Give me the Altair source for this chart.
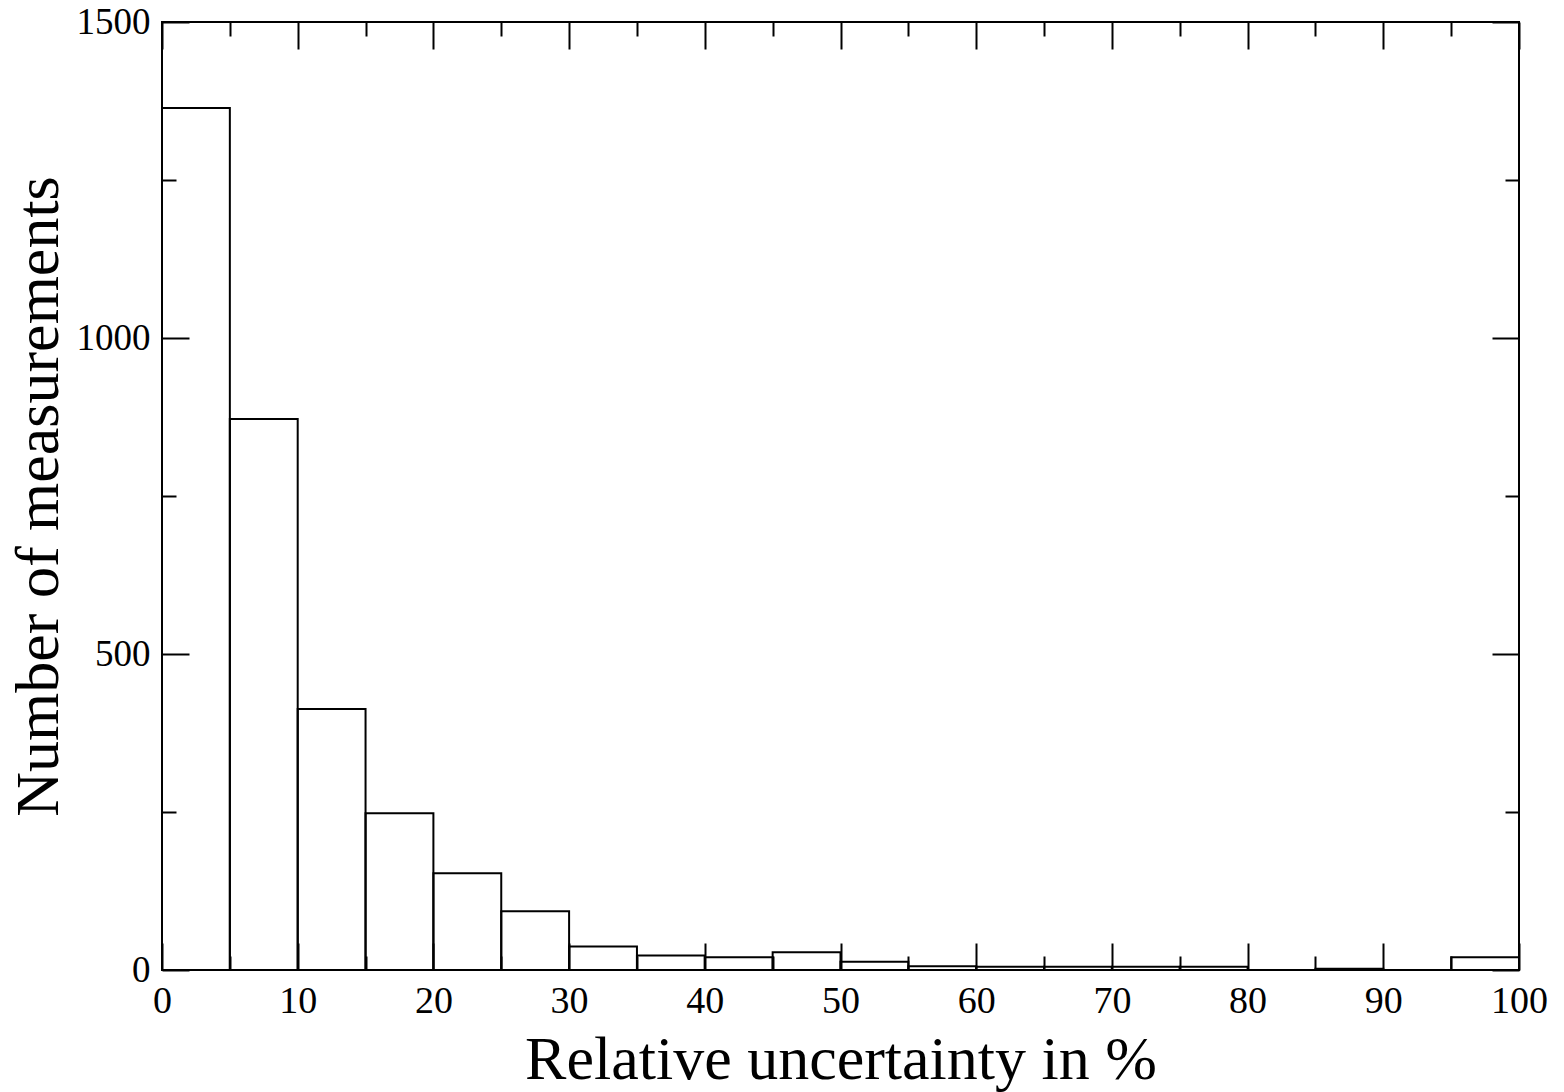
import altair as alt
import pandas as pd

bin_start = [0, 5, 10, 15, 20, 25, 30, 35, 40, 45, 50, 55, 60, 65, 70, 75, 80, 85, 90, 95]
counts = [1364, 872, 413, 248, 153, 93, 37, 23, 20, 28, 13, 6, 5, 5, 5, 5, 0, 2, 0, 20]
bin_width = 5

x_major = [0, 10, 20, 30, 40, 50, 60, 70, 80, 90, 100]
x_minor = [5, 15, 25, 35, 45, 55, 65, 75, 85, 95]
y_major = [0, 500, 1000, 1500]
y_minor = [250, 750, 1250]

W, H = 1357, 948
FONT = "Liberation Serif"

df = pd.DataFrame({
    "start": bin_start,
    "end": [s + bin_width for s in bin_start],
    "count": counts,
    "zero": [0] * len(bin_start),
})

xs = alt.Scale(domain=[0, 100], nice=False, zero=False)
ys = alt.Scale(domain=[0, 1500], nice=False)

bars = alt.Chart(df).mark_rect(
    fill="white", fillOpacity=0, stroke="black", strokeWidth=2
).encode(
    x=alt.X("start:Q", scale=xs, title="Relative uncertainty in %",
            axis=alt.Axis(orient="bottom", values=x_major, ticks=False, domain=False,
                          grid=False, labelFontSize=38, labelFont=FONT, labelColor="black",
                          labelPadding=12, titleFontSize=62, titleFont=FONT,
                          titleFontWeight="normal", titleColor="black", titlePadding=9,
                          format="d", labelFlush=False)),
    x2="end:Q",
    y=alt.Y("zero:Q", scale=ys, title="Number of measurements",
            axis=alt.Axis(orient="left", values=y_major, ticks=False, domain=False,
                          grid=False, labelFontSize=37, labelFont=FONT, labelColor="black",
                          labelPadding=12, titleFontSize=62, titleFont=FONT,
                          titleFontWeight="normal", titleColor="black", titlePadding=6,
                          format="d", labelFlush=False)),
    y2="count:Q",
)


def tick_layer(xvals, yvals, size, x_orient, y_orient):
    return alt.Chart(df).mark_point(opacity=0).encode(
        x=alt.X("start:Q", scale=xs, title=None,
                axis=alt.Axis(orient=x_orient, offset=-H, values=xvals, labels=False,
                              domain=False, grid=False, tickSize=size, tickWidth=2,
                              tickColor="black")),
        y=alt.Y("count:Q", scale=ys, title=None,
                axis=alt.Axis(orient=y_orient, offset=-W, values=yvals, labels=False,
                              domain=False, grid=False, tickSize=size, tickWidth=2,
                              tickColor="black")),
    )


layers = [
    bars,
    tick_layer(x_major, y_major, 27, "top", "right"),
    tick_layer(x_minor, y_minor, 14, "top", "right"),
    tick_layer(x_major, y_major, 27, "bottom", "left"),
    tick_layer(x_minor, y_minor, 14, "bottom", "left"),
]

chart = alt.layer(*layers).resolve_axis(
    x="independent", y="independent"
).properties(
    width=W, height=H,
    autosize=alt.AutoSizeParams(type="none"),
    padding={"left": 162, "top": 22, "right": 45, "bottom": 122},
    background="white",
).configure_view(
    stroke="black", strokeWidth=2
)

chart.save("out.html", embed_options={"renderer": "svg", "actions": False})
